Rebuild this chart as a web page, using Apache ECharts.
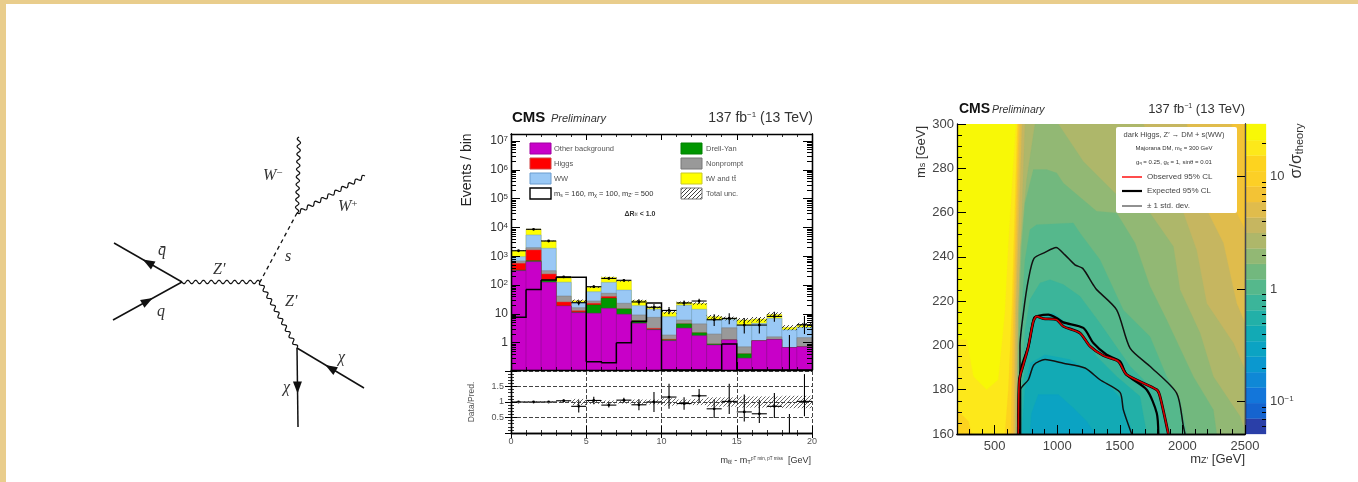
<!DOCTYPE html>
<html><head><meta charset="utf-8">
<style>
html,body{margin:0;padding:0;background:#fff;width:1358px;height:482px;overflow:hidden}
#main{position:absolute;left:0;top:0;width:1358px;height:482px;filter:blur(0.7px)}
.b{position:absolute;background:#e9cd8c}
</style>
<script src="https://cdn.jsdelivr.net/npm/echarts@6/dist/echarts.min.js"></script>
</head><body>
<div id="main"></div>
<div class="b" style="left:0;top:0;width:1358px;height:4px"></div>
<div class="b" style="left:0;top:0;width:6px;height:482px"></div>
<script>
// ---------- Feynman diagram (diagram units) ----------
const fQbarIn=[114,143],vqq=[182,182],fQIn=[113,220],vZ=[260,182],vS=[297,113],fWm=[299,37],fWp=[365,76],vChi=[297,248],fChi1=[364,288],fChi2=[298,327];
const diagramLabels=[['W',263,76,'−'],['W',338,107,'+'],['q̄',158,151,''],['q',157,212,''],["Z′",213,170,''],['s',285,157,''],["Z′",285,202,''],['χ',338,258,''],['χ',283,288,'']];
// ---------- histogram: stack tops per bin ----------
const binEdges=[0,1,2,3,4,5,6,7,8,9,10,11,12,13,14,15,16,17,18,19,20];
const otherTop=[316,650,125,18.8,11,10.5,15.6,9.7,4.7,2.8,1.17,3.2,1.75,.83,1.25,.29,1.17,1.3,.68,.72];
const dyTop=[330,700,150,18.8,11.5,20.5,34.7,14.9,5.8,2.9,1.25,4.5,2.2,.9,1.25,.41,1.17,1.3,.68,.72];
const higgsTop=[570,1660,243,26,12.9,23.4,40,14.9,5.8,3.16,1.32,4.5,2.2,.9,1.25,.41,1.17,1.3,.68,.72];
const nonpromptTop=[690,1990,316,41.7,16.4,28,52,23.4,9.2,7.6,1.85,6.1,4.5,2,3.3,.72,1.17,1.6,.68,1.5];
const wwTop=[970,5500,1900,126,24.7,58.6,124,67,19.3,14.6,8,20,14.5,6.1,6.5,4.1,4.7,7,2.8,3.4];
const ttTop=[1560,8660,3400,186,28.7,84,186,139,28.7,17,11.4,25,23,8,7,6.1,6.6,9.6,3.4,4.1];
const signal=[7.6,71,150,186,186,.22,.2,1,5.4,24,0,0,0,0,.9,0,0,0,0,0];
const dataVals=[1560,8660,3400,193,24.5,88,170,147,26,17,13.2,24,28,6.3,7,4.1,4.1,8.2,0,4.2];
const dataLow=[1520,8570,3340,180,20,79,157,135,21,13,9.7,19,23,3.8,4.4,2.1,2.1,5.3,0,2];
const dataHigh=[1600,8750,3460,207,30,98,183,159,32,22,17.5,29,33.5,9.8,10.5,7.2,7.2,11.8,1.85,8.5];
const relUnc=[.02,.02,.02,.03,.1,.06,.05,.05,.08,.08,.12,.08,.1,.15,.15,.18,.18,.18,.2,.2];
// ---------- ratio panel ----------
const ratio=[1,1,1,1.04,.86,1.05,.9,1.06,.91,1,1.16,.95,1.2,.78,1.02,.68,.62,.86,0,1.02];
const ratioLow=[.97,.99,.98,1,.66,.93,.82,.98,.73,.68,.78,.75,.98,.48,.61,.37,.32,.48,0,.54];
const ratioHigh=[1.03,1.01,1.02,1.08,1.06,1.17,.98,1.14,1.09,1.32,1.59,1.15,1.42,1.08,1.59,1.24,1.07,1.29,.61,1.9];
// ---------- limit plot ----------
const observed=[[690,160],[698,184.5],[730,191.3],[770,199.6],[810,210.9],[836,213.1],[889,212.1],[996,211.6],[1049,208.6],[1182,205.6],[1262,199.6],[1369,195.4],[1489,192.8],[1555,186.8],[1795,180],[1821,177],[1888,160]];
const expected=[[698,160],[703,184.5],[716,190.6],[770,199.6],[815,212.4],[850,213.4],[929,213.9],[996,212.4],[1049,210.4],[1209,207.9],[1289,201.1],[1395,195.8],[1502,192.8],[1555,186.8],[1715,180],[1795,169.5],[1808,160]];
const plusOne=[[698,160],[703,184.5],[703,199.6],[730,214.6],[770,229.7],[815,239.3],[903,242],[991,244.2],[1062,240.9],[1142,236.4],[1204,234.8],[1289,227.3],[1315,225.2],[1475,216.1],[1582,198.8],[1741,190.6],[1954,178.5],[2008,163.5],[2021,160]];
const minusOne=[[708,160],[708,180],[770,184.5],[815,191.3],[903,193.6],[1049,192],[1222,189.8],[1342,184.5],[1502,178.8],[1528,171],[1595,160]];
// colour bar: edges of 20 log-spaced bands, bottom to top
const barEdges=[.0516,.0709,.0972,.1334,.183,.2512,.3447,.473,.649,.891,1.222,1.677,2.30,3.16,4.33,5.95,8.16,11.2,15.4,21.1,29.4];
const barColors=['#2a3fa8','#1564cf','#1376da','#0f88d6','#0b98cf','#0ba3c3','#12aab5','#22b0a8','#3bb59a','#55b88c','#72b87e','#92b874','#aeb76a','#c6b660','#e0bc4c','#f3c335','#fccf26','#fdd31f','#fde81a','#f8f806'];
// filled contours (each is the region below a band), outermost first
const cA=[[671,300],[610,244.7],[583,214.6],[530,184.5],[437,180],[330,186],[277,202.6],[203,202.6],[200,160],[2500,160],[2500,300]];
const cA2=[[200,160],[200,171],[291,165.7],[317,160]];
const cB=[[682,300],[637,214.6],[610,180],[583,160],[2500,160],[2500,300]];
const cC=[[692,300],[650,214.6],[629,160],[2500,160],[2500,300]];
const cD=[[703,300],[663,214.6],[650,160],[2500,160],[2500,252.3],[2433,259.8],[2393,300]];
const cE=[[719,300],[671,214.6],[663,160],[2500,160],[2500,210],[2433,219],[2327,246.3],[2207,259.8],[2034,300]];
const cF=[[743,300],[690,214.6],[671,160],[2500,160],[2500,189],[2407,201.1],[2194,219],[2114,243],[2008,259.8],[1688,300]];
const cG=[[823,300],[756,274.8],[708,244.7],[690,214.6],[676,160],[2500,160],[2492,162.7],[2460,168],[2247,186],[2141,205.6],[1981,225.2],[1928,244.7],[1741,259.8],[1475,268.1],[1209,283.1],[1009,300]];
const cH=[[680,160],[698,214.6],[716,244.7],[743,264.3],[810,279.4],[916,279.4],[996,277.9],[1049,273.3],[1315,260.6],[1475,259.8],[1622,246.3],[1741,226.7],[1874,211.6],[2087,186],[2247,171],[2274,160]];
const cI=[[690,160],[716,214.6],[743,238.7],[783,252.3],[836,254.5],[1129,255.3],[1182,250.8],[1342,238.7],[1528,216],[1741,204],[1874,186],[1981,175.5],[2034,160]];
const cJ=[[698,160],[719,184.5],[743,207],[783,220.7],[863,228.2],[943,229.7],[1049,227.5],[1182,222.2],[1342,210],[1582,190.6],[1795,178.5],[1901,160]];
const cK=[[708,160],[724,180],[756,196.6],[796,210],[889,213.9],[969,214.6],[1182,205.6],[1315,195],[1475,186],[1661,177],[1715,160]];
const cL=[[716,160],[743,180],[783,192],[903,195.8],[1102,193.6],[1262,188.3],[1422,181.5],[1515,175.5],[1555,168],[1608,160]];
const cM=[[783,160],[796,169.5],[850,177.8],[1009,177.8],[1129,171.7],[1236,165.7],[1302,160]];
const contours=[[cA,'#fde81a'],[cA2,'#fdd31f'],[cB,'#fdd31f'],[cC,'#f3c335'],[cD,'#e0bc4c'],[cE,'#c6b660'],[cF,'#aeb76a'],[cG,'#92b874'],[cH,'#72b87e'],[cI,'#55b88c'],[cJ,'#3bb59a'],[cK,'#22b0a8'],[cL,'#12aab5'],[cM,'#0ba3c3']];
// tick positions
const mainMajor=[1,10,100,1e3,1e4,1e5,1e6,1e7];
const mainMinor=[];[.1,1,10,100,1e3,1e4,1e5,1e6].forEach(d=>[2,3,4,5,6,7,8,9].forEach(k=>mainMinor.push(d*k)));
const heatXMajor=[500,1000,1500,2000,2500];
const heatXMinor=[200,300,400,600,700,800,900,1100,1200,1300,1400,1600,1700,1800,1900,2100,2200,2300,2400];
const barMajor=[.1,1,10];
const barMinor=[.06,.07,.08,.09,.2,.3,.4,.5,.6,.7,.8,.9,2,3,4,5,6,7,8,9,20];

const SANS='"Liberation Sans"', SERIF='"Liberation Serif"';
const TXT='#333';
const hc=document.createElement('canvas');hc.width=hc.height=4;
{const c=hc.getContext('2d');c.strokeStyle='rgba(30,30,30,.85)';c.lineWidth=1;c.beginPath();c.moveTo(-1,3);c.lineTo(3,-1);c.moveTo(1,5);c.lineTo(5,1);c.stroke();}
const hatch={image:hc,repeat:'repeat'};

const grid=[
 {left:0,top:100,width:420,height:340},
 {left:511,top:134,width:301,height:236},
 {left:511,top:371,width:301,height:62},
 {left:957,top:124,width:288,height:310},
 {left:1245,top:124,width:21,height:310}];
const xAxis=[],yAxis=[],series=[];
const lbl=(o)=>Object.assign({fontFamily:SANS,color:TXT},o);
const off={show:false};
function ax(list,o){list.push(Object.assign({z:10,splitLine:off,axisLine:{show:true,lineStyle:{color:'#000',width:1.3}}},o));return list.length-1;}
const noLabel={show:false};
// 0 diagram
xAxis.push({gridIndex:0,type:'value',min:0,max:420,show:false});
yAxis.push({gridIndex:0,type:'value',min:0,max:340,inverse:true,show:false});
// 1 main x bottom /top
const xt=(l)=>({show:true,inside:true,length:l,lineStyle:{color:'#000',width:1}});
const mx=()=>({show:true,splitNumber:5,length:3,lineStyle:{color:'#000',width:.8}});
const X1=ax(xAxis,{gridIndex:1,type:'value',min:0,max:20,interval:5,position:'bottom',axisTick:xt(8),minorTick:mx(),axisLabel:noLabel});
const X1t=ax(xAxis,{gridIndex:1,type:'value',min:0,max:20,interval:5,position:'top',axisTick:xt(6),minorTick:mx(),axisLabel:noLabel});
const YMIN=.113,YMAX=1.76e7;
const logLab=v=>{if(v<1.5)return '{a|1}';if(v<15)return '{a|10}';return '{a|10}{s|'+Math.round(Math.log10(v))+'}';};
const Y1=ax(yAxis,{gridIndex:1,type:'log',min:YMIN,max:YMAX,position:'left',
  axisTick:Object.assign(xt(9),{customValues:mainMajor}),
  axisLabel:{show:true,customValues:mainMajor,margin:3,formatter:logLab,rich:{a:{fontSize:12,fontFamily:SANS,color:TXT},s:{fontSize:8,fontFamily:SANS,color:TXT,verticalAlign:'top',padding:[0,0,4,0]}}}});
ax(yAxis,{gridIndex:1,type:'log',min:YMIN,max:YMAX,position:'left',axisTick:Object.assign(xt(5),{customValues:mainMinor}),axisLabel:noLabel});
ax(yAxis,{gridIndex:1,type:'log',min:YMIN,max:YMAX,position:'right',axisTick:Object.assign(xt(9),{customValues:mainMajor}),axisLabel:noLabel});
ax(yAxis,{gridIndex:1,type:'log',min:YMIN,max:YMAX,position:'right',axisTick:Object.assign(xt(5),{customValues:mainMinor}),axisLabel:noLabel});
// 2 ratio
const dash={show:true,lineStyle:{type:'dashed',color:'#444',width:1}};
const X2=ax(xAxis,{gridIndex:2,type:'value',min:0,max:20,interval:5,position:'bottom',splitLine:dash,axisTick:xt(7),minorTick:mx(),axisLabel:lbl({show:true,fontSize:9,margin:4,color:'#555'})});
ax(xAxis,{gridIndex:2,type:'value',min:0,max:20,interval:5,position:'top',axisTick:xt(5),minorTick:mx(),axisLabel:noLabel});
const Y2=ax(yAxis,{gridIndex:2,type:'value',min:0,max:2,interval:.5,position:'left',splitLine:dash,axisTick:xt(6),minorTick:{show:true,splitNumber:5,length:3,lineStyle:{color:'#000',width:.8}},axisLabel:lbl({show:true,fontSize:9,margin:7,color:'#555',formatter:v=>(v===0||v===2)?'':String(v)})});
ax(yAxis,{gridIndex:2,type:'value',min:0,max:2,interval:.5,position:'right',axisTick:xt(6),minorTick:{show:true,splitNumber:5,length:3,lineStyle:{color:'#000',width:.8}},axisLabel:noLabel});
// 3 heat
const X3=ax(xAxis,{gridIndex:3,type:'value',min:200,max:2500,position:'bottom',axisTick:Object.assign(xt(9),{customValues:heatXMajor}),axisLabel:lbl({show:true,customValues:heatXMajor,fontSize:13,margin:6,color:'#444',formatter:v=>String(v)})});
ax(xAxis,{gridIndex:3,type:'value',min:200,max:2500,position:'bottom',axisTick:Object.assign(xt(5),{customValues:heatXMinor}),axisLabel:noLabel});
const Y3=ax(yAxis,{gridIndex:3,type:'value',min:160,max:300,interval:20,position:'left',axisTick:xt(9),minorTick:{show:true,splitNumber:4,length:5,lineStyle:{color:'#000',width:1}},axisLabel:lbl({show:true,fontSize:13,margin:3,color:'#444'})});
ax(yAxis,{gridIndex:3,type:'value',min:160,max:300,position:'right',axisTick:{show:false},axisLabel:noLabel});
// 4 colour bar
const X4=ax(xAxis,{gridIndex:4,type:'value',min:0,max:1,show:false});
const Y4=ax(yAxis,{gridIndex:4,type:'log',min:.0516,max:29.4,position:'right',axisLine:{show:true,lineStyle:{color:'#445',width:1}},
  axisTick:Object.assign(xt(8),{customValues:barMajor}),
  axisLabel:{show:true,customValues:barMajor,margin:4,formatter:v=>v>5?'{a|10}':v>.5?'{a|1}':'{a|10}{s|−1}',rich:{a:{fontSize:13,fontFamily:SANS,color:'#444'},s:{fontSize:8,fontFamily:SANS,color:'#444',verticalAlign:'top'}}}});
ax(yAxis,{gridIndex:4,type:'log',min:.0516,max:29.4,position:'right',axisLine:{show:false},axisTick:Object.assign(xt(4),{customValues:barMinor}),axisLabel:noLabel});

const idx=(x,y)=>({xAxisIndex:x,yAxisIndex:y});
// ---- diagram ----
function seg(a,b,dashed,w){series.push(Object.assign({type:'line',silent:true,...idx(0,0),showSymbol:false,animation:false,lineStyle:{color:'#111',width:w||1.5,type:dashed?[4,3.5]:'solid'},data:[a,b]}));}
seg(fQbarIn,vqq);seg(fQIn,vqq);seg(vS,vZ,true,1.3);seg(vChi,fChi1);seg(vChi,fChi2);
const waves=[[vqq,vZ],[vS,fWm],[vS,fWp],[vZ,vChi]];
series.push({type:'custom',...idx(0,0),silent:true,animation:false,clip:false,data:waves.map((w,i)=>[i]),encode:{x:-1,y:-1},renderItem:(p,api)=>{
  const w=waves[api.value(0)],a=api.coord(w[0]),b=api.coord(w[1]);
  const dx=b[0]-a[0],dy=b[1]-a[1],L=Math.hypot(dx,dy),n=Math.round(L/7.6),pts=[];
  for(let k=0;k<=n*10;k++){const t=k/(n*10),o=1.7*Math.sin(t*n*2*Math.PI);pts.push([a[0]+dx*t-dy/L*o,a[1]+dy*t+dx/L*o]);}
  return {type:'polyline',shape:{points:pts},style:{fill:null,stroke:'#111',lineWidth:1.2}};
}});
const arrowDefs=[[fQbarIn,vqq,.5,-1],[fQIn,vqq,.5,1],[fChi1,vChi,.5,1],[vChi,fChi2,.5,1]];
series.push({type:'custom',...idx(0,0),silent:true,animation:false,clip:false,data:arrowDefs.map((w,i)=>[i]),encode:{x:-1,y:-1},renderItem:(p,api)=>{
  const d=arrowDefs[api.value(0)];let a=api.coord(d[0]),b=api.coord(d[1]);
  if(d[3]<0){const t=a;a=b;b=t;}
  const dx=b[0]-a[0],dy=b[1]-a[1],L=Math.hypot(dx,dy),ux=dx/L,uy=dy/L,cx=a[0]+dx*.5,cy=a[1]+dy*.5,s=6,h=4.5;
  return {type:'polygon',shape:{points:[[cx+ux*s,cy+uy*s],[cx-ux*s-uy*h,cy-uy*s+ux*h],[cx-ux*s+uy*h,cy-uy*s-ux*h]]},style:{fill:'#111'}};
}});
// ---- histogram ----
const stack=[[ttTop,'#ffff00','#c8c828'],[wwTop,'#99c8f5','#6a9ccf'],[nonpromptTop,'#999999','#777777'],[higgsTop,'#ff0000','#d04040'],[dyTop,'#009600','#008000'],[otherTop,'#c800c8','#a000a0']];
stack.forEach(([arr,fill,edge])=>{
  series.push({type:'custom',...idx(X1,Y1),silent:true,animation:false,clip:true,z:2,
    data:arr.map((v,i)=>[i+.5,v]),encode:{x:0,y:1},
    renderItem:(p,api)=>{const i=p.dataIndex,a=api.coord([binEdges[i],api.value(1)]),b=api.coord([binEdges[i+1],YMIN]);
      return {type:'rect',shape:{x:a[0],y:a[1],width:b[0]-a[0],height:b[1]-a[1]},style:{fill,stroke:edge,lineWidth:.5}};}});
});
// uncertainty hatch
series.push({type:'custom',...idx(X1,Y1),silent:true,animation:false,z:3,data:ttTop.map((v,i)=>[i+.5,v]),encode:{x:0,y:1},
  renderItem:(p,api)=>{const i=p.dataIndex,v=api.value(1),a=api.coord([binEdges[i],v*(1+relUnc[i])]),b=api.coord([binEdges[i+1],v*(1-relUnc[i])]);
    return {type:'rect',shape:{x:a[0],y:a[1],width:b[0]-a[0],height:b[1]-a[1]},style:{fill:hatch}};}});
// signal outline
series.push({type:'custom',...idx(X1,Y1),silent:true,animation:false,z:4,clip:true,data:signal.map((v,i)=>[i+.5,v>0?v:YMIN]),encode:{x:0,y:1},
  renderItem:(p,api)=>{const i=p.dataIndex,cl=v=>v>0?v:YMIN,v=cl(signal[i]),nx=i<19?cl(signal[i+1]):YMIN,pv=i>0?cl(signal[i-1]):YMIN;
    const a=api.coord([binEdges[i],v]),b=api.coord([binEdges[i+1],v]),c=api.coord([binEdges[i+1],nx]),d=api.coord([binEdges[i],pv]);
    const pts=i===0?[d,a,b,c]:[a,b,c];
    return {type:'polyline',shape:{points:pts},style:{fill:null,stroke:'#000',lineWidth:1.5}};}});
// data points
function points(xi,yi,vals,lo,hi,floor){
 series.push({type:'custom',...idx(xi,yi),silent:true,animation:false,z:5,clip:true,data:vals.map((v,i)=>[i+.5,v>0?v:floor]),encode:{x:0,y:1},
  renderItem:(p,api)=>{const i=p.dataIndex,x=i+.5,c=api.coord([x,Math.max(vals[i],floor)]),l=api.coord([binEdges[i],Math.max(vals[i],floor)]),r=api.coord([binEdges[i+1],Math.max(vals[i],floor)]),t=api.coord([x,hi[i]]),b=api.coord([x,Math.max(lo[i],floor)]);
   const st={stroke:'#000',lineWidth:1.1,fill:null};const ch=[
    {type:'line',shape:{x1:c[0],y1:t[1],x2:c[0],y2:b[1]},style:st}];
   if(vals[i]>0) ch.push({type:'line',shape:{x1:l[0],y1:c[1],x2:r[0],y2:c[1]},style:st},{type:'circle',shape:{cx:c[0],cy:c[1],r:1.4},style:{fill:'#000'}});
   return {type:'group',children:ch};}});
}
points(X1,Y1,dataVals,dataLow,dataHigh,YMIN);
// ratio band + points
series.push({type:'custom',...idx(X2,Y2),silent:true,animation:false,z:3,data:relUnc.map((u,i)=>[i+.5,u]),encode:{x:0,y:-1},
  renderItem:(p,api)=>{const i=p.dataIndex,u=relUnc[i],a=api.coord([binEdges[i],1+u]),b=api.coord([binEdges[i+1],1-u]);
    return {type:'rect',shape:{x:a[0],y:a[1],width:b[0]-a[0],height:b[1]-a[1]},style:{fill:hatch,opacity:.8}};}});
points(X2,Y2,ratio,ratioLow,ratioHigh,0);
// ---- contours ----
series.push({type:'custom',...idx(X3,Y3),silent:true,animation:false,z:1,clip:true,data:[[0,0]],encode:{x:-1,y:-1},
  renderItem:(p,api)=>{const a=api.coord([200,300]),b=api.coord([2500,160]);
    return {type:'rect',shape:{x:a[0],y:a[1],width:b[0]-a[0],height:b[1]-a[1]},style:{fill:'#f8f806'}};}});
contours.forEach(([pts,col])=>{series.push({type:'custom',...idx(X3,Y3),silent:true,animation:false,z:1,clip:true,data:[[pts[0][0],pts[0][1]]],encode:{x:0,y:1},
  renderItem:(p,api)=>({type:'polygon',shape:{points:pts.map(q=>api.coord(q))},style:{fill:col,stroke:col,lineWidth:.3}})});});
const ln=(d,c,w)=>series.push({type:'line',...idx(X3,Y3),silent:true,animation:false,z:3,showSymbol:false,clip:true,smooth:.25,data:d,lineStyle:{color:c,width:w}});
ln(plusOne,'#111',1.5);ln(minusOne,'#111',1.5);ln(expected,'#000',2.2);ln(observed,'#000',2.8);ln(observed,'#d00000',1.6);
// colour bar
series.push({type:'custom',...idx(X4,Y4),silent:true,animation:false,z:1,data:barColors.map((c,i)=>[.5,barEdges[i+1]]),encode:{x:0,y:1},
  renderItem:(p,api)=>{const i=p.dataIndex,a=api.coord([0,barEdges[i+1]]),b=api.coord([1,barEdges[i]]);
    return {type:'rect',shape:{x:a[0],y:a[1],width:b[0]-a[0],height:b[1]-a[1]},style:{fill:barColors[i],stroke:barColors[i],lineWidth:.3}};}});
// ---- annotation text ----
const g=[];
function T(x,y,text,o){o=o||{};g.push({type:'text',x,y,rotation:o.rot||0,z:101,silent:true,style:{text,fontFamily:o.ff||SANS,fontSize:o.fs||10,fontWeight:o.fw||'normal',fontStyle:o.it?'italic':'normal',fill:o.c||TXT,align:o.al||'left',verticalAlign:'middle',rich:o.rich}});}
function R(x,y,w,h,s){g.push({type:'rect',shape:{x:0,y:0,width:w,height:h,r:s.r||0},x,y,z:100,silent:true,style:s});}
function L(x1,x2,y,c,w){g.push({type:'line',shape:{x1,y1:y,x2,y2:y},z:101,silent:true,style:{stroke:c,lineWidth:w}});}
diagramLabels.forEach(([t,x,y,sup])=>{
  const rich={a:{fontSize:16,fontFamily:SERIF,fontStyle:'italic',fill:'#333',color:'#333'},s:{fontSize:11,fontFamily:SERIF,fill:'#333',color:'#333',verticalAlign:'top'}};
  T(x,y+100,sup?'{a|'+t+'}{s|'+sup+'}':'{a|'+t+'}',{rich,ff:SERIF});
});
// middle titles
T(512,118,'CMS',{fs:15,fw:'bold',c:'#111'});
T(551,119,'Preliminary',{fs:11,it:true,c:'#333'});
T(813,118,'{a|137 fb}{s|−1}{a| (13 TeV)}',{al:'right',rich:{a:{fontSize:14,fontFamily:SANS,color:'#222'},s:{fontSize:8,fontFamily:SANS,color:'#222',verticalAlign:'top'}}});
T(467,170,'Events / bin',{rot:Math.PI/2,al:'center',fs:14,c:'#222'});
T(472,402,'Data/Pred.',{rot:Math.PI/2,al:'center',fs:8.5,c:'#555'});
const lf={fs:7.5,c:'#555'};
const LX=530,LX2=681,LW=21,LH=11;
[[143,'#c800c8','#a000a0','Other background'],[158,'#ff0000','#d04040','Higgs'],[173,'#99c8f5','#6a9ccf','WW']].forEach(([y,f,e,t])=>{R(LX,y,LW,LH,{fill:f,stroke:e,lineWidth:1});T(554,y+5.5,t,lf);});
R(LX,188,LW,LH,{fill:'#fff',stroke:'#000',lineWidth:1.4});
T(554,194,'{a|m}{b|s}{a| = 160, m}{b|χ}{a| = 100, m}{b|Z′}{a| = 500}',{rich:{a:{fontSize:7.5,fontFamily:SANS,color:'#555'},b:{fontSize:5,fontFamily:SANS,color:'#555',verticalAlign:'bottom'}}});
[[143,'#009600','#008000','Drell-Yan'],[158,'#999999','#777777','Nonprompt'],[173,'#ffff00','#c8c828','tW and tt̄']].forEach(([y,f,e,t])=>{R(LX2,y,LW,LH,{fill:f,stroke:e,lineWidth:1});T(706,y+5.5,t,lf);});
R(LX2,188,LW,LH,{fill:hatch,stroke:'#777',lineWidth:1});
T(706,194,'Total unc.',lf);
T(640,214,'{a|ΔR}{b|ℓℓ}{a| < 1.0}',{al:'center',rich:{a:{fontSize:7,fontWeight:'bold',fontFamily:SANS,color:'#444'},b:{fontSize:5,fontFamily:SANS,color:'#444',verticalAlign:'bottom'}}});
T(811,461,'{a|m}{b|ℓℓ}{a| - m}{b|T}{c|pT min, pT miss}{a|  [GeV]}',{al:'right',rich:{a:{fontSize:9,fontFamily:SANS,color:'#555'},b:{fontSize:6,fontFamily:SANS,color:'#555',verticalAlign:'bottom'},c:{fontSize:4.5,fontFamily:SANS,color:'#555',verticalAlign:'top'}}});
// heat titles
T(959,109,'CMS',{fs:14,fw:'bold',c:'#111'});
T(992,110,'Preliminary',{fs:10.5,it:true,c:'#333'});
T(1245,109,'{a|137 fb}{s|−1}{a| (13 TeV)}',{al:'right',rich:{a:{fontSize:13,fontFamily:SANS,color:'#222'},s:{fontSize:7,fontFamily:SANS,color:'#222',verticalAlign:'top'}}});
const rr={a:{fontSize:13,fontFamily:SANS,color:'#444'},b:{fontSize:9,fontFamily:SANS,color:'#444',verticalAlign:'bottom'},c:{fontSize:16,fontFamily:SANS,color:'#444'},d:{fontSize:11,fontFamily:SANS,color:'#444',verticalAlign:'bottom'}};
T(921,152,'{a|m}{b|s}{a| [GeV]}',{rot:Math.PI/2,al:'center',rich:rr});
T(1245,459,"{a|m}{b|Z′}{a| [GeV]}",{al:'right',rich:rr});
T(1297,151,'{c|σ/σ}{d|theory}',{rot:Math.PI/2,al:'center',rich:rr});
// heat legend
R(1116,127,121,86,{fill:'#fff',r:2});
T(1174,135,"dark Higgs, Z′ → DM + s(WW)",{al:'center',fs:7.5,c:'#444'});
T(1174,148,'{a|Majorana DM, m}{b|χ}{a| = 300 GeV}',{al:'center',rich:{a:{fontSize:6,fontFamily:SANS,color:'#555'},b:{fontSize:4,fontFamily:SANS,color:'#555',verticalAlign:'bottom'}}});
T(1174,162,'{a|g}{b|q}{a| = 0.25, g}{b|χ}{a| = 1, sinθ = 0.01}',{al:'center',rich:{a:{fontSize:6,fontFamily:SANS,color:'#555'},b:{fontSize:4,fontFamily:SANS,color:'#555',verticalAlign:'bottom'}}});
L(1122,1142,177,'#ff2020',1.6);T(1147,177,'Observed 95% CL',{fs:8,c:'#444'});
L(1122,1142,191,'#000',2.2);T(1147,191,'Expected 95% CL',{fs:8,c:'#444'});
L(1122,1142,206,'#222',1);T(1147,206,'± 1 std. dev.',{fs:8,c:'#444'});

const chart=echarts.init(document.getElementById('main'));
chart.setOption({animation:false,backgroundColor:'transparent',grid,xAxis,yAxis,series,graphic:{elements:g}});
</script>
</body></html>
